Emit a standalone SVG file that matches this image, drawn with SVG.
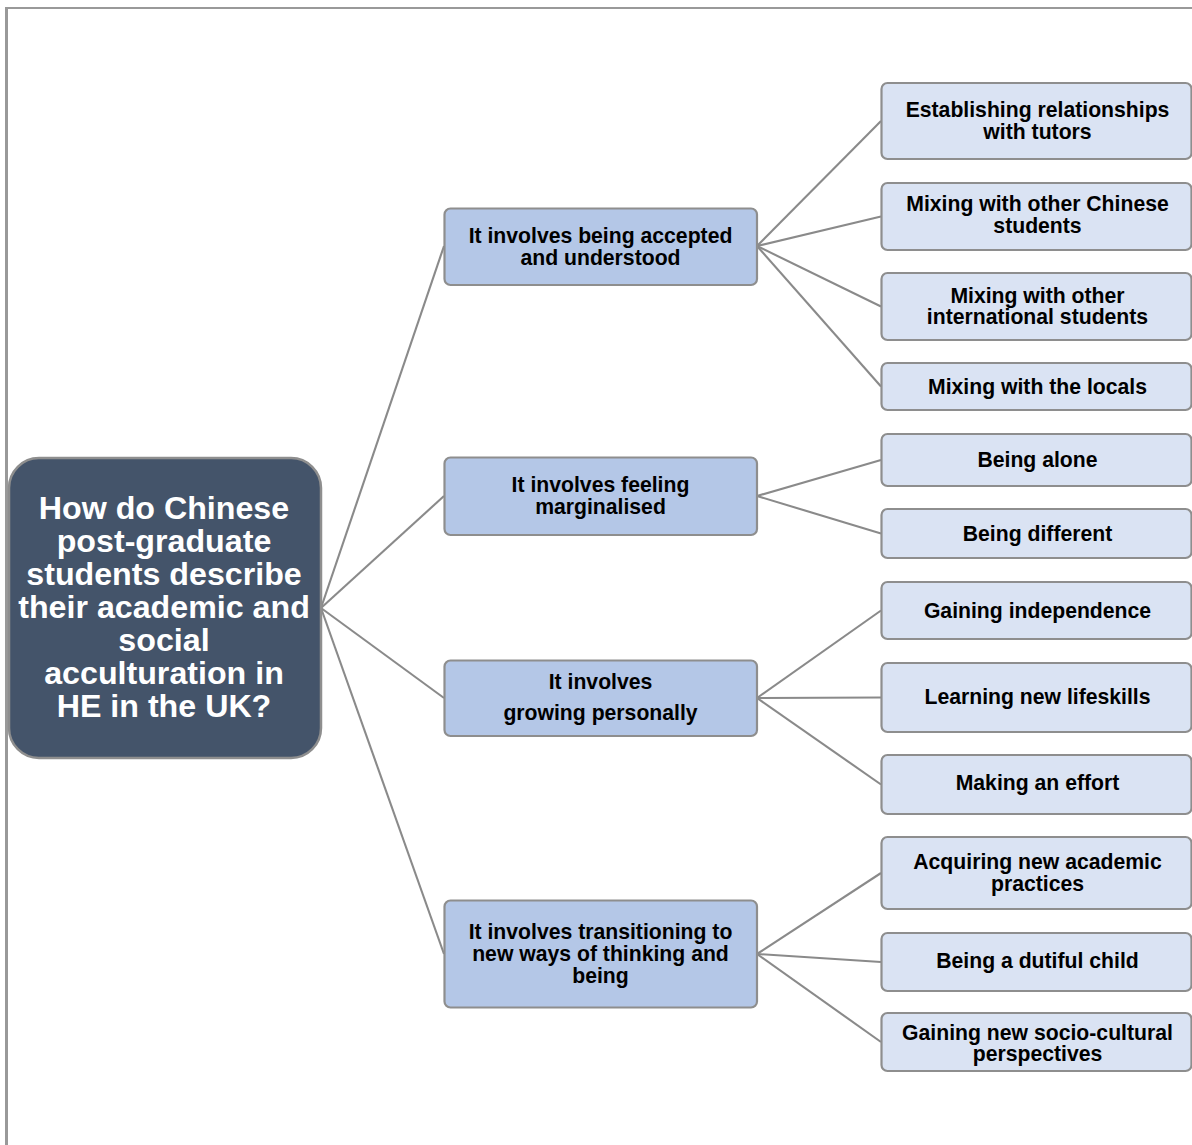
<svg xmlns="http://www.w3.org/2000/svg" width="1192" height="1145" viewBox="0 0 1192 1145">
<style>
.frame{stroke:#999999;fill:none}
.root rect{fill:#44546A;stroke:#8E8E8E;stroke-width:2.5}
.root text{fill:#FFFFFF;font-family:"Liberation Sans",Arial,sans-serif;font-weight:bold;font-size:32.2px;text-anchor:middle}
.mid rect{fill:#B4C7E7;stroke:#8E8E8E;stroke-width:2.2}
.leaf rect{fill:#DAE3F3;stroke:#8E8E8E;stroke-width:2.2}
.mid text,.leaf text{fill:#000000;font-family:"Liberation Sans",Arial,sans-serif;font-weight:bold;font-size:21.2px;text-anchor:middle}
#connectors line{stroke:#8A8A8A;stroke-width:2.1}
</style>
<rect width="1192" height="1145" fill="#FFFFFF"/>
<line class="frame" x1="6.5" y1="7" x2="6.5" y2="1145" stroke-width="3"/>
<line class="frame" x1="5" y1="8" x2="1192" y2="8" stroke-width="2"/>

<g id="connectors">
<line x1="321" y1="608" x2="444" y2="246"/>
<line x1="321" y1="608" x2="444" y2="496"/>
<line x1="321" y1="608" x2="444" y2="698"/>
<line x1="321" y1="608" x2="444" y2="954"/>
<line x1="757" y1="246" x2="881" y2="121"/>
<line x1="757" y1="246" x2="881" y2="216.5"/>
<line x1="757" y1="246" x2="881" y2="306.5"/>
<line x1="757" y1="246" x2="881" y2="386.5"/>
<line x1="757" y1="496" x2="881" y2="460"/>
<line x1="757" y1="496" x2="881" y2="533.5"/>
<line x1="757" y1="698" x2="881" y2="610.5"/>
<line x1="757" y1="698" x2="881" y2="697.5"/>
<line x1="757" y1="698" x2="881" y2="784.5"/>
<line x1="757" y1="954" x2="881" y2="873"/>
<line x1="757" y1="954" x2="881" y2="962"/>
<line x1="757" y1="954" x2="881" y2="1042"/>
</g>

<g id="root" class="root">
<rect x="9" y="458" width="312" height="300" rx="30"/>
<text x="164" y="519">How do Chinese</text>
<text x="164" y="552">post-graduate</text>
<text x="164" y="585">students describe</text>
<text x="164" y="618">their academic and</text>
<text x="164" y="651">social</text>
<text x="164" y="684">acculturation in</text>
<text x="164" y="717">HE in the UK?</text>
</g>

<g id="mid1" class="mid">
<rect x="444.5" y="208.5" width="312.5" height="76.5" rx="6"/>
<text x="600.5" y="242.5">It involves being accepted</text>
<text x="600.5" y="264.5">and understood</text>
</g>
<g id="mid2" class="mid">
<rect x="444.5" y="457.5" width="312.5" height="77.5" rx="6"/>
<text x="600.5" y="491.5">It involves feeling</text>
<text x="600.5" y="514">marginalised</text>
</g>
<g id="mid3" class="mid">
<rect x="444.5" y="660.5" width="312.5" height="75.5" rx="6"/>
<text x="600.5" y="689">It involves</text>
<text x="600.5" y="720">growing personally</text>
</g>
<g id="mid4" class="mid">
<rect x="444.5" y="900.5" width="312.5" height="107" rx="6"/>
<text x="600.5" y="939">It involves transitioning to</text>
<text x="600.5" y="961">new ways of thinking and</text>
<text x="600.5" y="982.5">being</text>
</g>

<g id="leaf1" class="leaf">
<rect x="881.5" y="83" width="310" height="76" rx="6"/>
<text x="1037.5" y="117">Establishing relationships</text>
<text x="1037.5" y="138.5">with tutors</text>
</g>
<g id="leaf2" class="leaf">
<rect x="881.5" y="183" width="310" height="67" rx="6"/>
<text x="1037.5" y="210.5">Mixing with other Chinese</text>
<text x="1037.5" y="232.5">students</text>
</g>
<g id="leaf3" class="leaf">
<rect x="881.5" y="273" width="310" height="67" rx="6"/>
<text x="1037.5" y="302.5">Mixing with other</text>
<text x="1037.5" y="324">international students</text>
</g>
<g id="leaf4" class="leaf">
<rect x="881.5" y="363" width="310" height="47" rx="6"/>
<text x="1037.5" y="394">Mixing with the locals</text>
</g>
<g id="leaf5" class="leaf">
<rect x="881.5" y="434" width="310" height="52" rx="6"/>
<text x="1037.5" y="467">Being alone</text>
</g>
<g id="leaf6" class="leaf">
<rect x="881.5" y="509" width="310" height="49" rx="6"/>
<text x="1037.5" y="541">Being different</text>
</g>
<g id="leaf7" class="leaf">
<rect x="881.5" y="582" width="310" height="57" rx="6"/>
<text x="1037.5" y="617.5">Gaining independence</text>
</g>
<g id="leaf8" class="leaf">
<rect x="881.5" y="663" width="310" height="69" rx="6"/>
<text x="1037.5" y="703.5">Learning new lifeskills</text>
</g>
<g id="leaf9" class="leaf">
<rect x="881.5" y="755" width="310" height="59" rx="6"/>
<text x="1037.5" y="790">Making an effort</text>
</g>
<g id="leaf10" class="leaf">
<rect x="881.5" y="837" width="310" height="72" rx="6"/>
<text x="1037.5" y="869">Acquiring new academic</text>
<text x="1037.5" y="890.5">practices</text>
</g>
<g id="leaf11" class="leaf">
<rect x="881.5" y="933" width="310" height="58" rx="6"/>
<text x="1037.5" y="967.5">Being a dutiful child</text>
</g>
<g id="leaf12" class="leaf">
<rect x="881.5" y="1013" width="310" height="58" rx="6"/>
<text x="1037.5" y="1040">Gaining new socio-cultural</text>
<text x="1037.5" y="1061">perspectives</text>
</g>
</svg>
